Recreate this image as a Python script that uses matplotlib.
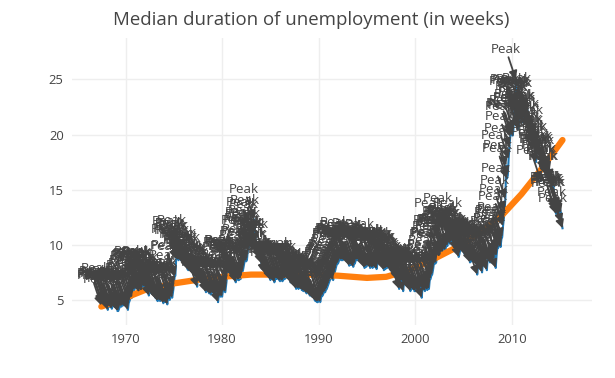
import numpy as np
import pandas as pd
import matplotlib
matplotlib.use("Agg")
import matplotlib.pyplot as plt
import matplotlib.dates as mdates

# median duration of unemployment, monthly, from 1967-07
uempmed = [
    4.5, 4.7, 4.6, 4.9, 4.7, 4.8,                                   # 1967 (Jul-Dec)
    5.1, 4.5, 4.1, 4.6, 4.4, 4.4, 4.5, 4.2, 4.6, 4.8, 4.4, 4.4,     # 1968
    4.4, 4.9, 4.0, 4.0, 4.2, 4.4, 4.4, 4.4, 4.7, 4.5, 4.8, 4.6,     # 1969
    4.6, 4.5, 4.6, 4.1, 4.7, 4.9, 5.1, 5.4, 5.2, 5.6, 5.9, 5.9,     # 1970
    6.2, 6.3, 6.4, 6.5, 6.7, 5.7, 6.2, 6.4, 5.8, 6.5, 6.4, 6.2,     # 1971
    6.2, 6.6, 6.6, 6.7, 6.6, 5.4, 6.1, 6.0, 5.6, 5.7, 5.7, 6.1,     # 1972
    5.7, 5.2, 5.5, 5.0, 4.9, 5.0, 5.2, 4.9, 5.4, 5.5, 5.1, 4.7,     # 1973
    5.0, 5.1, 4.8, 5.0, 4.6, 5.3, 5.7, 5.0, 5.3, 5.5, 5.2, 5.7,     # 1974
    6.3, 7.1, 7.2, 8.7, 9.4, 8.8, 8.6, 9.2, 9.2, 8.6, 9.5, 9.0,     # 1975
    9.0, 8.2, 8.7, 8.2, 8.3, 7.8, 7.7, 7.9, 7.8, 7.7, 8.4, 8.0,     # 1976
    7.5, 7.2, 7.2, 7.3, 7.9, 6.2, 7.1, 7.0, 6.7, 6.9, 7.0, 6.8,     # 1977
    6.5, 6.7, 6.2, 6.1, 5.7, 6.0, 5.8, 5.8, 5.6, 5.9, 5.5, 5.6,     # 1978
    5.9, 5.9, 5.9, 5.4, 5.6, 5.6, 5.9, 4.8, 5.5, 5.5, 5.3, 5.7,     # 1979
    5.3, 5.8, 6.0, 5.8, 5.7, 6.4, 7.0, 7.5, 7.7, 7.5, 7.7, 7.5,     # 1980
    7.4, 7.1, 7.1, 7.4, 6.9, 6.6, 7.1, 7.2, 6.8, 6.8, 6.9, 6.9,     # 1981
    7.1, 7.5, 7.7, 8.1, 8.5, 9.5, 8.5, 8.7, 9.5, 9.7, 10.0, 10.2,   # 1982
    11.1, 9.8, 10.4, 10.9, 12.3, 11.3, 10.1, 9.3, 9.3, 9.4, 9.3, 8.7,  # 1983
    9.1, 8.3, 8.3, 8.2, 9.1, 7.5, 7.5, 7.3, 7.6, 7.2, 7.2, 7.3,     # 1984
    6.8, 7.1, 7.1, 6.9, 6.9, 6.6, 6.9, 7.1, 6.9, 7.1, 7.0, 6.8,     # 1985
    6.7, 6.9, 6.8, 6.7, 6.8, 7.0, 6.9, 7.1, 7.4, 7.0, 7.1, 7.1,     # 1986
    6.9, 6.6, 6.6, 7.1, 6.6, 6.5, 6.5, 6.4, 6.0, 6.3, 6.2, 6.0,     # 1987
    6.2, 6.3, 6.4, 5.9, 5.9, 5.8, 6.1, 5.9, 5.7, 5.6, 5.7, 5.9,     # 1988
    5.6, 5.4, 5.4, 5.4, 5.3, 5.4, 5.6, 5.0, 4.9, 4.9, 4.8, 4.8,     # 1989
    5.3, 5.1, 4.8, 5.2, 5.4, 5.4, 5.6, 5.8, 5.7, 5.9, 6.0, 6.2,     # 1990
    6.4, 6.6, 6.8, 6.9, 7.0, 7.3, 6.8, 7.2, 7.5, 7.8, 8.1, 8.3,     # 1991
    8.3, 8.5, 8.8, 8.7, 8.6, 8.8, 8.6, 9.0, 9.0, 9.3, 8.6, 8.5,     # 1992
    8.5, 8.4, 8.1, 8.3, 8.2, 8.2, 8.3, 8.0, 8.3, 8.3, 8.6, 9.2,     # 1993
    8.6, 8.8, 8.6, 8.9, 8.9, 8.4, 8.6, 8.4, 8.2, 7.9, 8.0, 8.0,     # 1994
    8.1, 8.3, 8.3, 9.1, 7.9, 8.5, 8.3, 7.9, 8.2, 8.0, 8.3, 8.3,     # 1995
    7.8, 8.3, 8.6, 8.6, 8.3, 8.3, 8.4, 8.5, 8.3, 7.7, 7.8, 7.8,     # 1996
    8.1, 7.9, 8.3, 8.0, 8.0, 7.9, 8.0, 7.6, 7.5, 7.6, 7.4, 7.2,     # 1997
    7.1, 7.2, 6.8, 6.7, 6.0, 6.9, 6.7, 6.8, 6.7, 5.8, 6.6, 6.8,     # 1998
    6.9, 6.8, 6.8, 6.2, 6.5, 6.3, 5.8, 6.5, 6.0, 6.1, 6.2, 5.8,     # 1999
    5.8, 6.1, 6.0, 6.1, 5.8, 5.7, 6.0, 6.3, 5.2, 6.1, 6.1, 6.0,     # 2000
    5.8, 6.1, 6.6, 5.9, 6.3, 6.0, 6.8, 6.9, 7.2, 7.3, 7.7, 8.2,     # 2001
    8.4, 8.3, 8.4, 8.9, 9.5, 11.0, 8.9, 9.0, 9.5, 9.6, 9.3, 9.6,    # 2002
    9.6, 9.5, 9.7, 10.2, 9.9, 11.5, 10.3, 10.1, 10.2, 10.4, 10.3, 10.4,  # 2003
    10.6, 10.2, 10.2, 9.5, 9.9, 11.0, 8.9, 9.2, 9.6, 9.5, 9.7, 9.5,     # 2004
    9.4, 9.2, 9.3, 9.0, 9.1, 9.0, 8.8, 9.2, 8.4, 8.6, 8.5, 8.7,     # 2005
    8.6, 9.1, 8.7, 8.4, 8.5, 7.3, 8.0, 8.4, 8.0, 7.9, 8.3, 7.5,     # 2006
    8.3, 8.5, 9.1, 8.6, 8.2, 7.7, 8.7, 8.8, 8.7, 8.4, 8.6, 8.4,     # 2007
    9.0, 8.7, 8.7, 9.4, 7.9, 9.0, 9.7, 9.7, 10.2, 10.4, 9.8, 10.5,  # 2008
    10.7, 11.7, 12.3, 13.1, 14.2, 17.2, 16.0, 16.3, 17.8, 18.9, 19.8, 20.1,  # 2009
    20.0, 19.9, 20.4, 22.1, 22.3, 25.0, 22.2, 20.6, 20.5, 20.9, 21.6, 22.3,  # 2010
    21.9, 21.5, 21.1, 21.5, 22.0, 22.2, 22.0, 22.4, 21.9, 20.6, 20.8, 20.5,  # 2011
    20.8, 19.7, 19.2, 19.1, 19.9, 20.1, 17.5, 18.5, 18.7, 19.5, 18.6, 18.0,  # 2012
    15.8, 17.9, 18.0, 17.3, 16.8, 16.8, 16.5, 16.3, 16.8, 17.2, 17.0, 16.7,  # 2013
    15.9, 15.8, 16.0, 15.3, 15.3, 13.4, 13.1, 12.8, 13.4, 13.4, 13.4, 12.9,  # 2014
    13.2, 12.9, 12.0, 11.5,                                         # 2015 (Jan-Apr)
]
dates = pd.date_range("1967-07-01", periods=len(uempmed), freq="MS")

# smoothed trend
smooth_dates = pd.to_datetime([
    "1967-07-01", "1970-01-01", "1972-01-01", "1975-01-01", "1978-01-01",
    "1980-01-01", "1983-01-01", "1986-01-01", "1989-01-01", "1992-01-01",
    "1995-01-01", "1997-01-01", "1999-01-01", "2001-01-01", "2003-01-01",
    "2005-01-01", "2007-01-01", "2009-01-01", "2011-01-01", "2013-01-01",
    "2015-04-01"])
smooth_vals = [4.4, 5.2, 5.9, 6.5, 6.9, 7.1, 7.3, 7.3, 7.3, 7.2,
               7.0, 7.1, 7.6, 8.3, 9.2, 10.1, 11.3, 12.7, 14.6, 16.8, 19.5]

plt.rcParams['font.family'] = ['Open Sans', 'DejaVu Sans']
dark = '#444444'

fig = plt.figure(figsize=(6.15, 3.78), dpi=100)
ax = fig.add_axes([72/615, 53/378, 520/615, 287/378])

ax.plot(dates, uempmed, color='#1f77b4', lw=1.5, zorder=2)
ax.plot(smooth_dates, smooth_vals, color='#ff7f0e', lw=4.5,
        solid_capstyle='round', zorder=3)

for d, v in zip(dates, uempmed):
    ax.annotate("Peak", xy=(d, v), xytext=(-10, 30), textcoords='offset pixels',
                ha='center', va='center', fontsize=9.6, color=dark, zorder=5,
                bbox=dict(boxstyle='square,pad=0.1', fc='none', ec='none'),
                arrowprops=dict(arrowstyle='-|>', color=dark, lw=1.3,
                                mutation_scale=12, shrinkA=0, shrinkB=0))

ax.set_xlim(pd.Timestamp("1964-06-17"), pd.Timestamp("2018-04-20"))
ax.set_ylim(2.73, 28.75)
ax.xaxis.set_major_locator(mdates.YearLocator(10))
ax.xaxis.set_major_formatter(mdates.DateFormatter('%Y'))
ax.set_yticks([5, 10, 15, 20, 25])
ax.grid(True, color='#eeeeee', lw=1)
ax.set_axisbelow(True)
for s in ax.spines.values():
    s.set_visible(False)
ax.tick_params(length=0, labelsize=9.4, labelcolor=dark, pad=6)

fig.text(311/615, 1 - 20/378, "Median duration of unemployment (in weeks)",
         ha='center', va='center', fontsize=13.4, color=dark)

fig.savefig("out.png", dpi=100)
